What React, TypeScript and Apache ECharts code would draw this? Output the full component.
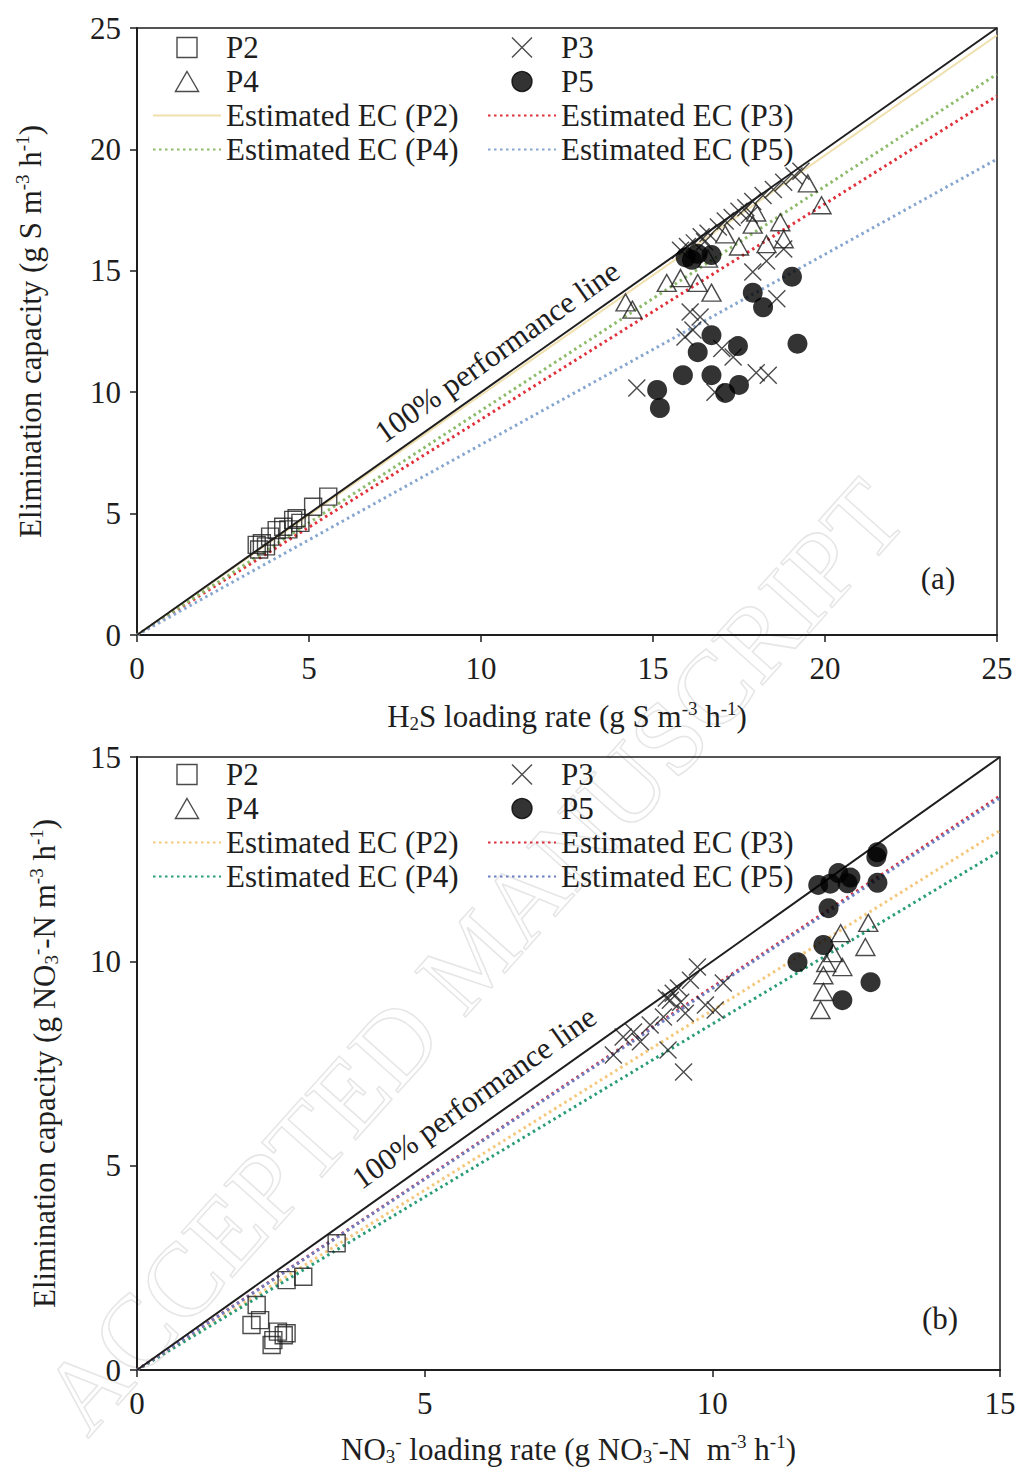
import React, { useEffect, useRef } from 'react';
import * as echarts from 'echarts';

const FONT = 'Liberation Serif';
const INK = '#1e1e1e';

// ---------- (a) H2S ----------
const xTicksTop = [0, 5, 10, 15, 20, 25];
const p2Top = [[3.48, 3.71], [3.63, 3.78], [3.87, 4.05], [4.06, 4.32], [4.25, 4.46], [4.54, 4.74], [4.64, 4.81], [5.12, 5.28], [5.56, 5.7], [3.55, 3.52], [3.75, 3.65], [4.4, 4.35], [4.75, 4.62]];
const p3Top = [[15.8, 15.85], [16.0, 16.0], [16.2, 16.15], [16.4, 16.4], [16.6, 16.55], [16.9, 16.8], [17.1, 17.05], [17.3, 17.2], [17.5, 17.45], [17.7, 17.6], [17.9, 17.85], [18.2, 18.1], [18.5, 18.35], [18.8, 18.65], [19.1, 18.9], [19.3, 19.1], [16.5, 16.2], [17.8, 17.3],
  [16.08, 13.3], [16.37, 13.1], [15.93, 12.27], [16.16, 12.56], [18.6, 13.85], [17.0, 11.8], [17.33, 11.45], [18.0, 10.8], [18.35, 10.7], [14.53, 10.17], [16.8, 10.0], [17.9, 14.95], [18.3, 15.4], [18.8, 15.9]];
const p4Top = [[14.2, 13.7], [14.4, 13.4], [15.4, 14.5], [15.8, 14.7], [16.3, 14.5], [16.7, 14.1], [17.1, 16.5], [17.5, 16.0], [17.9, 16.9], [18.3, 16.1], [18.7, 17.0], [18.8, 16.3], [19.5, 18.6], [19.9, 17.7], [18.0, 17.4], [16.6, 15.5]];
const p5Top = [[15.12, 10.09], [15.2, 9.35], [15.87, 10.7], [16.7, 12.35], [16.3, 11.65], [16.7, 10.7], [17.47, 11.9], [17.1, 9.97], [17.5, 10.3], [19.2, 12.0], [18.2, 13.5], [16.13, 15.45], [16.7, 15.65], [19.04, 14.76], [17.9, 14.1], [15.95, 15.55], [16.3, 15.7]];
const perfTop = [[0, 0], [25, 25]];
const estP2Top = [[0, 0], [25, 24.7]];
const estP3Top = [[0, 0], [25, 22.2]];
const estP4Top = [[0, 0], [25, 23.1]];
const estP5Top = [[0, 0], [25, 19.6]];

// ---------- (b) NO3 ----------
const xTicksBot = [0, 5, 10, 15];
const p2Bot = [[3.47, 3.1], [2.6, 2.2], [2.89, 2.28], [2.08, 1.59], [1.99, 1.1], [2.14, 1.22], [2.34, 0.61], [2.45, 0.94], [2.6, 0.9], [2.37, 0.73], [2.55, 0.85]];
const p3Bot = [[9.5, 7.29], [9.23, 7.83], [8.28, 7.71], [8.45, 8.15], [8.75, 8.03], [8.92, 8.44], [9.15, 8.64], [9.32, 9.22], [9.41, 9.35], [9.27, 9.05], [9.74, 9.86], [9.53, 8.73], [9.88, 8.93], [10.05, 8.81], [10.19, 9.47], [9.62, 9.54], [8.63, 8.27], [9.2, 9.1], [9.45, 9.0]];
const p4Bot = [[11.88, 8.81], [11.93, 9.25], [11.93, 9.66], [11.98, 9.96], [12.23, 10.69], [12.26, 9.86], [12.71, 10.94], [12.66, 10.35], [12.1, 10.2]];
const p5Bot = [[11.48, 9.98], [11.93, 10.4], [12.02, 11.3], [11.84, 11.87], [12.19, 12.16], [12.35, 11.91], [12.87, 11.92], [12.87, 12.67], [12.75, 9.49], [12.26, 9.05], [12.05, 11.9], [12.4, 12.05], [12.85, 12.55]];
const perfBot = [[0, 0], [15, 15]];
const estP2Bot = [[0, 0], [15, 13.2]];
const estP3Bot = [[0, 0], [15, 14.05]];
const estP4Bot = [[0, 0], [15, 12.7]];
const estP5Bot = [[0, 0], [15, 14.0]];

const SQ = 'path://M0,0L20,0L20,20L0,20Z';
const TRI = 'path://M10,0L20,17.3L0,17.3Z';
const CROSS = 'path://M0,0L20,20M20,0L0,20';

const rich = {
  n: { fontFamily: FONT, fontSize: 31, color: INK, lineHeight: 34 },
  sup: { fontFamily: FONT, fontSize: 19, color: INK, lineHeight: 19, verticalAlign: 'top' },
  sub: { fontFamily: FONT, fontSize: 19, color: INK, lineHeight: 19, verticalAlign: 'bottom' },
};

function scatter(name: string, data: number[][], symbol: string, size: any, gi: number, filled = false) {
  return {
    name, type: 'scatter', xAxisIndex: gi, yAxisIndex: gi, data, symbol, symbolSize: size, z: 5,
    itemStyle: filled
      ? { color: '#000', borderColor: '#000', borderWidth: 0 }
      : { color: 'rgba(0,0,0,0)', borderColor: INK, borderWidth: 1.4 },
    emphasis: { disabled: true },
  };
}

function line(name: string, data: number[][], color: string, gi: number, dotted = true, width = 3) {
  return {
    name, type: 'line', xAxisIndex: gi, yAxisIndex: gi, data, symbol: 'none', z: 3, silent: true,
    itemStyle: { color },
    lineStyle: dotted ? { color, width, type: [2.5, 3.5], cap: 'butt' } : { color, width },
    emphasis: { disabled: true },
  };
}

function xAxis(gi: number, max: number, ticks: number[], name: string, gap: number) {
  return {
    gridIndex: gi, type: 'value', min: 0, max, interval: ticks[1] - ticks[0],
    axisLine: { show: true, onZero: false, lineStyle: { color: INK, width: 2 } },
    axisTick: { show: true, length: 7, lineStyle: { color: INK, width: 1.5 } },
    axisLabel: { fontFamily: FONT, fontSize: 31, color: INK, margin: 18 },
    splitLine: { show: false },
    name, nameLocation: 'middle', nameGap: gap,
    nameTextStyle: { fontFamily: FONT, fontSize: 31, color: INK, rich },
  };
}
function yAxis(gi: number, max: number, name: string, gap: number) {
  return {
    gridIndex: gi, type: 'value', min: 0, max, interval: 5,
    axisLine: { show: true, onZero: false, lineStyle: { color: INK, width: 2 } },
    axisTick: { show: true, length: 7, lineStyle: { color: INK, width: 1.5 } },
    axisLabel: { fontFamily: FONT, fontSize: 31, color: INK, margin: 16 },
    splitLine: { show: false },
    name, nameLocation: 'middle', nameGap: gap,
    nameTextStyle: { fontFamily: FONT, fontSize: 31, color: INK, rich },
  };
}

const lineItem = (name: string) => ({ name, itemStyle: { color: 'rgba(0,0,0,0)', borderWidth: 0, opacity: 0 } });

function legend(left: number, top: number, data: any[]) {
  return {
    left, top, orient: 'vertical', padding: 0, itemGap: 1, itemWidth: 68, itemHeight: 20,
    selectedMode: false, data,
    formatter: (n: string) => n.trim(),
    textStyle: { fontFamily: FONT, fontSize: 31, color: INK, lineHeight: 33 },
    itemStyle: { borderWidth: 1.4 },
  };
}

export default function App() {
  const ref = useRef<HTMLDivElement>(null);
  useEffect(() => {
    document.body.style.margin = '0';
    const chart = echarts.init(ref.current!, null, { renderer: 'svg' });
    const option: any = {
      animation: false,
      backgroundColor: '#fff',
      grid: [
        { left: 137, top: 28, width: 860, height: 607, show: true, borderColor: INK, borderWidth: 1.5, backgroundColor: 'transparent' },
        { left: 137, top: 757, width: 863, height: 613, show: true, borderColor: INK, borderWidth: 1.5, backgroundColor: 'transparent' },
      ],
      xAxis: [
        xAxis(0, 25, xTicksTop, '{n|H}{sub|2}{n|S loading rate (g S m}{sup|-3}{n| h}{sup|-1}{n|)}', 64),
        xAxis(1, 15, xTicksBot, '{n|NO}{sub|3}{sup|-}{n| loading rate (g NO}{sub|3}{sup|-}{n|-N  m}{sup|-3}{n| h}{sup|-1}{n|)}', 62),
      ],
      yAxis: [
        yAxis(0, 25, '{n|Elimination capacity (g S m}{sup|-3}{n| h}{sup|-1}{n|)}', 90),
        yAxis(1, 15, '{n|Elimination capacity (g NO}{sub|3}{sup|-}{n|-N m}{sup|-3}{n| h}{sup|-1}{n|)}', 76),
      ],
      legend: [
        legend(152, 31, ['P2', 'P4', lineItem('Estimated EC (P2)'), lineItem('Estimated EC (P4)')]),
        legend(487, 31, ['P3', 'P5', lineItem('Estimated EC (P3)'), lineItem('Estimated EC (P5)')]),
        legend(152, 758, ['P2 ', 'P4 ', lineItem('Estimated EC (P2) '), lineItem('Estimated EC (P4) ')]),
        legend(487, 758, ['P3 ', 'P5 ', lineItem('Estimated EC (P3) '), lineItem('Estimated EC (P5) ')]),
      ],
      series: [
        { name: '100% line', type: 'line', xAxisIndex: 0, yAxisIndex: 0, data: perfTop, symbol: 'none', z: 4, silent: true, lineStyle: { color: INK, width: 2 } },
        line('Estimated EC (P2)', estP2Top, '#efe0ae', 0, false, 2),
        line('Estimated EC (P3)', estP3Top, '#e0303a', 0),
        line('Estimated EC (P4)', estP4Top, '#8dbb6a', 0),
        line('Estimated EC (P5)', estP5Top, '#86a6cf', 0),
        scatter('P2', p2Top, SQ, 17, 0),
        scatter('P3', p3Top, CROSS, 17, 0),
        scatter('P4', p4Top, TRI, [19, 17], 0),
        scatter('P5', p5Top, 'circle', 20, 0, true),

        { name: '100% line ', type: 'line', xAxisIndex: 1, yAxisIndex: 1, data: perfBot, symbol: 'none', z: 4, silent: true, lineStyle: { color: INK, width: 2 } },
        line('Estimated EC (P2) ', estP2Bot, '#f5c77a', 1),
        line('Estimated EC (P4) ', estP4Bot, '#2a9d78', 1),
        line('Estimated EC (P3) ', estP3Bot, '#d9333f', 1),
        line('Estimated EC (P5) ', estP5Bot, '#6d7fc4', 1),
        scatter('P2 ', p2Bot, SQ, 17, 1),
        scatter('P3 ', p3Bot, CROSS, 17, 1),
        scatter('P4 ', p4Bot, TRI, [19, 17], 1),
        scatter('P5 ', p5Bot, 'circle', 20, 1, true),
      ],
    };
    chart.setOption(option);

    const perfLabel = (gi: number, anchor: number, off: number) => {
      const o = chart.convertToPixel({ gridIndex: gi } as any, [0, 0]) as number[];
      const p = chart.convertToPixel({ gridIndex: gi } as any, [anchor, anchor]) as number[];
      const a = Math.atan2(o[1] - p[1], p[0] - o[0]);
      return {
        type: 'text', z: 20,
        x: p[0] - Math.sin(a) * off, y: p[1] - Math.cos(a) * off, rotation: a,
        style: { text: '100% performance line', fontFamily: FONT, fontSize: 31, fill: INK, align: 'center', verticalAlign: 'middle' },
      };
    };

    chart.setOption({
      graphic: [
        {
          type: 'text', z: -1, silent: true, x: 100, y: 1450, rotation: 0.84,
          style: { text: 'ACCEPTED MANUSCRIPT', fontFamily: FONT, fontSize: 104, fill: 'none', stroke: '#e6e6e6', lineWidth: 1.5, align: 'left', verticalAlign: 'bottom' },
        },
        perfLabel(0, 10.87, 24),
        perfLabel(1, 6.13, 27),
        { type: 'text', z: 20, x: 938, y: 578, style: { text: '(a)', fontFamily: FONT, fontSize: 31, fill: INK, align: 'center', verticalAlign: 'middle' } },
        { type: 'text', z: 20, x: 940, y: 1318, style: { text: '(b)', fontFamily: FONT, fontSize: 31, fill: INK, align: 'center', verticalAlign: 'middle' } },
      ],
    });
    return () => chart.dispose();
  }, []);
  return <div ref={ref} style={{ width: 1020, height: 1472 }} />;
}
